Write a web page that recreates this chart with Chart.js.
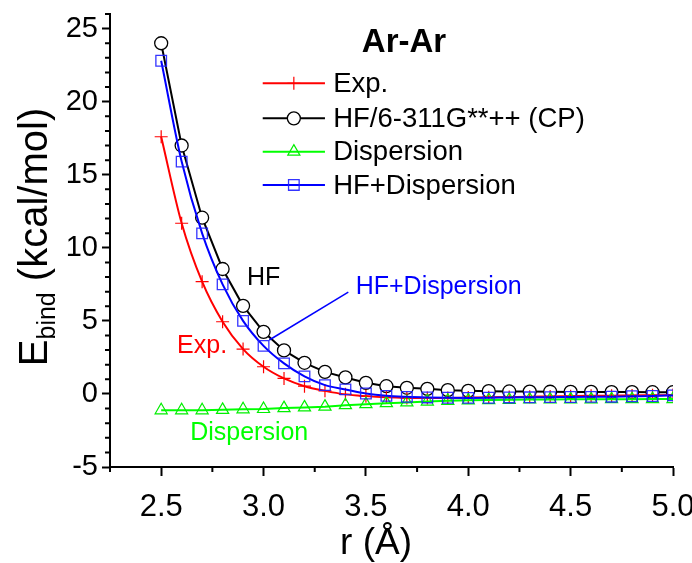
<!DOCTYPE html>
<html>
<head>
<meta charset="utf-8">
<title>Ar-Ar</title>
<script src="https://cdn.jsdelivr.net/npm/chart.js@4.4.0/dist/chart.umd.min.js"></script>
<style>
  html, body { margin: 0; padding: 0; background: #fff; }
  #chart { display: block; }
</style>
</head>
<body>
<canvas id="chart" width="692" height="563"></canvas>
<script>

/**
 * data (kcal/mol vs r in Angstrom)
 */
var rValues = [2.5, 2.6, 2.7, 2.8, 2.9, 3.0, 3.1, 3.2, 3.3, 3.4, 3.5, 3.6, 3.7,
               3.8, 3.9, 4.0, 4.1, 4.2, 4.3, 4.4, 4.5, 4.6, 4.7, 4.8, 4.9, 5.0];

var expValues = [17.6, 11.68, 7.68, 4.94, 3.07, 1.86, 1.06, 0.53, 0.21, -0.03, -0.15, -0.23, -0.27,
                 -0.28, -0.27, -0.25, -0.23, -0.21, -0.19, -0.17, -0.15, -0.13, -0.12, -0.10, -0.09, -0.08];

var hfValues = [24.0, 17.0, 12.06, 8.55, 6.03, 4.25, 2.98, 2.13, 1.51, 1.13, 0.76, 0.53, 0.42,
                0.35, 0.26, 0.21, 0.19, 0.17, 0.16, 0.15, 0.14, 0.14, 0.13, 0.13, 0.12, 0.12];

var dispValues = [-1.12, -1.12, -1.12, -1.09, -1.05, -1.03, -0.97, -0.92, -0.87, -0.77, -0.70, -0.63, -0.58,
                  -0.52, -0.47, -0.44, -0.42, -0.40, -0.38, -0.38, -0.37, -0.37, -0.36, -0.36, -0.35, -0.35];

var hfDispValues = [22.8, 15.9, 10.99, 7.5, 5.0, 3.29, 2.09, 1.2, 0.6, 0.31, 0.03, -0.13, -0.2,
                    -0.24, -0.26, -0.27, -0.26, -0.24, -0.23, -0.22, -0.21, -0.2, -0.19, -0.16, -0.14, -0.1];

var seriesNames = ["Exp.", "HF/6-311G**++ (CP)", "Dispersion", "HF+Dispersion"];

var xTicks = [2.5, 3.0, 3.5, 4.0, 4.5, 5.0];
var xMinorTicks = [2.25, 2.75, 3.25, 3.75, 4.25, 4.75];
var yTicks = [-5, 0, 5, 10, 15, 20, 25];

var FONT = "'Liberation Sans', Arial, sans-serif";

function points(values) {
    return rValues.map(function (r, i) { return { x: r, y: values[i] }; });
}

/**
 * series styles (order: higher is drawn first)
 */
var datasets = [
    {
        label: seriesNames[0], data: points(expValues), order: 3,
        borderColor: "#ff0000", borderWidth: 2, cubicInterpolationMode: "monotone",
        pointStyle: "cross", pointRadius: 6.5, pointBorderWidth: 1.2,
        pointBorderColor: "#ff0000", pointBackgroundColor: "#ff0000"
    },
    {
        label: seriesNames[1], data: points(hfValues), order: 4,
        borderColor: "#000000", borderWidth: 2, tension: 0,
        pointStyle: "circle", pointRadius: 6.5, pointBorderWidth: 1.3,
        pointBorderColor: "#000000", pointBackgroundColor: "#ffffff"
    },
    {
        label: seriesNames[2], data: points(dispValues), order: 2,
        borderColor: "#00ff00", borderWidth: 2, tension: 0,
        pointStyle: "triangle", pointRadius: 7, pointBorderWidth: 1.2,
        pointBorderColor: "#00ee00", pointBackgroundColor: "rgba(255,255,255,0)"
    },
    {
        label: seriesNames[3], data: points(hfDispValues), order: 1,
        borderColor: "#0000ff", borderWidth: 2, cubicInterpolationMode: "monotone",
        pointStyle: "rect", pointRadius: 7.5, pointBorderWidth: 1.3,
        pointBorderColor: "rgba(30,30,255,0.9)", pointBackgroundColor: "rgba(255,255,255,0)"
    }
];

/**
 * minor ticks, texts, legend drawn on top of the chart
 */
var decorPlugin = {
    id: "decor",
    afterDraw: function (chart) {
        var ctx = chart.ctx;
        var xs = chart.scales.x, ys = chart.scales.y;
        var X = function (v) { return xs.getPixelForValue(v); };
        var Y = function (v) { return ys.getPixelForValue(v); };
        var area = chart.chartArea;

        ctx.save();

        // minor ticks
        ctx.strokeStyle = "#000";
        ctx.lineWidth = 2;
        ctx.beginPath();
        xMinorTicks.forEach(function (v) {
            ctx.moveTo(X(v), area.bottom);
            ctx.lineTo(X(v), area.bottom + 5);
        });
        for (var v = -4; v <= 26; v++) {
            if (v % 5 === 0) continue;
            ctx.moveTo(area.left, Y(v));
            ctx.lineTo(area.left - 5, Y(v));
        }
        ctx.stroke();

        // title
        ctx.fillStyle = "#000";
        ctx.textAlign = "center";
        ctx.textBaseline = "middle";
        ctx.font = "bold 33px " + FONT;
        ctx.fillText("Ar-Ar", X(3.686), Y(24.0));

        // legend
        var rows = [21.26, 18.86, 16.58, 14.3];
        ctx.font = "27.5px " + FONT;
        ctx.textAlign = "left";
        rows.forEach(function (ry, i) {
            var y = Y(ry);
            ctx.strokeStyle = datasets[i].borderColor;
            ctx.lineWidth = 2;
            ctx.beginPath();
            ctx.moveTo(X(2.996), y);
            ctx.lineTo(X(3.30), y);
            ctx.stroke();
            if (Chart.helpers && Chart.helpers.drawPoint) {
                ctx.strokeStyle = datasets[i].pointBorderColor;
                ctx.fillStyle = datasets[i].pointBackgroundColor;
                ctx.lineWidth = datasets[i].pointBorderWidth;
                Chart.helpers.drawPoint(ctx, {
                    pointStyle: datasets[i].pointStyle,
                    radius: datasets[i].pointRadius,
                    rotation: 0,
                    borderWidth: datasets[i].pointBorderWidth
                }, X(3.148), y);
            }
            ctx.fillStyle = "#000";
            ctx.fillText(seriesNames[i], X(3.34), y + 1);
        });

        // curve annotations
        ctx.font = "25px " + FONT;
        ctx.textAlign = "center";
        ctx.fillStyle = "#000";
        ctx.fillText("HF", X(3.0), Y(7.9));
        ctx.fillStyle = "#ff0000";
        ctx.fillText("Exp.", X(2.70), Y(3.3));
        ctx.fillStyle = "#00ff00";
        ctx.fillText("Dispersion", X(2.93), Y(-2.7));
        ctx.fillStyle = "#0000ff";
        ctx.textAlign = "left";
        ctx.fillText("HF+Dispersion", X(3.45), Y(7.3));
        ctx.strokeStyle = "#0000ff";
        ctx.lineWidth = 1.5;
        ctx.beginPath();
        ctx.moveTo(X(3.414), Y(6.96));
        ctx.lineTo(X(3.028), Y(3.69));
        ctx.stroke();

        // x axis title
        ctx.fillStyle = "#000";
        ctx.textAlign = "center";
        ctx.textBaseline = "alphabetic";
        ctx.font = "37px " + FONT;
        ctx.fillText("r (\u00C5)", 376, 554);

        // y axis title with subscript
        ctx.translate(33, 237);
        ctx.rotate(-Math.PI / 2);
        var big = "40px " + FONT, small = "25px " + FONT;
        ctx.font = big;
        var wE = ctx.measureText("E").width;
        var wRest = ctx.measureText(" (kcal/mol)").width;
        ctx.font = small;
        var wSub = ctx.measureText("bind").width;
        var x0 = -(wE + wSub + wRest) / 2;
        ctx.textAlign = "left";
        ctx.font = big;
        ctx.fillText("E", x0, 14);
        ctx.font = small;
        ctx.fillText("bind", x0 + wE, 22);
        ctx.font = big;
        ctx.fillText(" (kcal/mol)", x0 + wE + wSub, 14);

        ctx.restore();
    }
};

var chart = new Chart(document.getElementById("chart").getContext("2d"), {
    type: "line",
    data: { datasets: datasets },
    options: {
        responsive: false,
        animation: false,
        events: [],
        layout: { padding: { top: 14, right: 19, left: 0, bottom: 0 } },
        plugins: { legend: { display: false }, tooltip: { enabled: false } },
        scales: {
            x: {
                type: "linear", min: 2.25, max: 5.0,
                afterBuildTicks: function (s) { s.ticks = xTicks.map(function (v) { return { value: v }; }); },
                afterFit: function (s) { s.height = 96; s.paddingLeft = 0; s.paddingRight = 0; },
                grid: { drawOnChartArea: false, tickLength: 9, tickWidth: 2, tickColor: "#000" },
                border: { color: "#000", width: 2 },
                ticks: {
                    color: "#000", font: { family: FONT, size: 31 }, padding: 13,
                    maxRotation: 0, autoSkip: false,
                    callback: function (v) { return Number(v).toFixed(1); }
                }
            },
            y: {
                min: -5, max: 26,
                afterBuildTicks: function (s) { s.ticks = yTicks.map(function (v) { return { value: v }; }); },
                afterFit: function (s) { s.width = 110; s.paddingTop = 0; s.paddingBottom = 0; },
                grid: { drawOnChartArea: false, tickLength: 8, tickWidth: 2, tickColor: "#000" },
                border: { color: "#000", width: 2 },
                ticks: {
                    color: "#000", font: { family: FONT, size: 29 }, padding: 4,
                    callback: function (v) { return String(v); }
                }
            }
        }
    },
    plugins: [decorPlugin]
});
</script>
</body>
</html>
